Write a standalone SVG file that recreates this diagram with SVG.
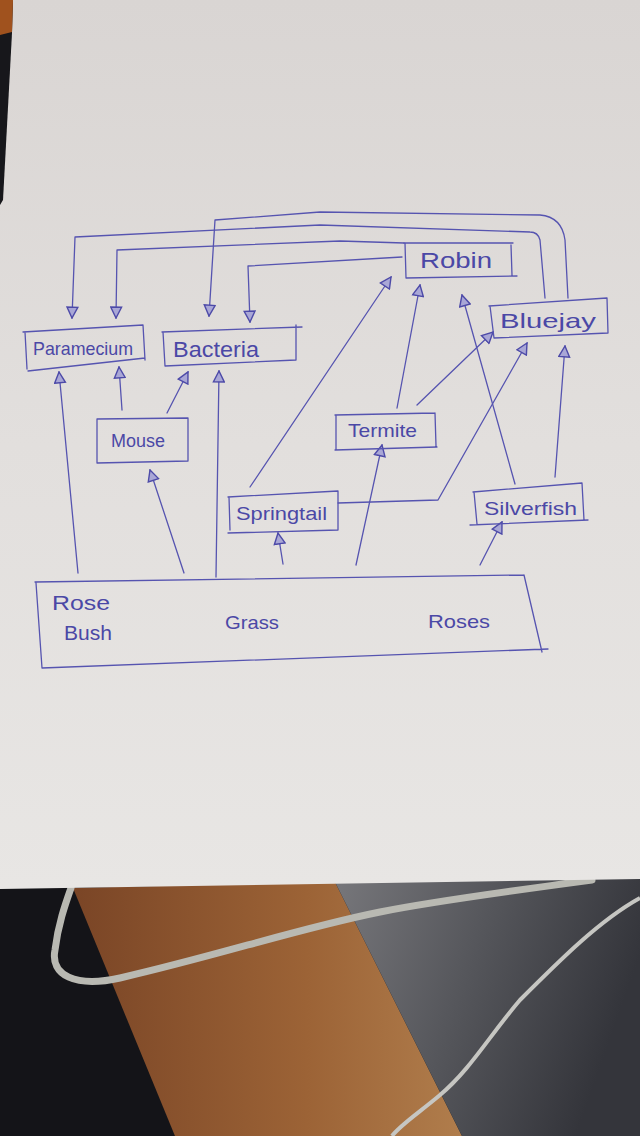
<svg xmlns="http://www.w3.org/2000/svg" width="640" height="1136" viewBox="0 0 640 1136">
<defs>
<linearGradient id="paper" x1="0" y1="0" x2="0" y2="1">
<stop offset="0" stop-color="#d9d5d3"/>
<stop offset="0.5" stop-color="#e2dfdd"/>
<stop offset="1" stop-color="#e8e6e4"/>
</linearGradient>
<linearGradient id="wood" x1="0" y1="0" x2="1" y2="0">
<stop offset="0" stop-color="#7a4526"/>
<stop offset="0.6" stop-color="#9c6336"/>
<stop offset="1" stop-color="#b07d4c"/>
</linearGradient>
<linearGradient id="grey" x1="0" y1="0" x2="1" y2="0.3">
<stop offset="0" stop-color="#77777b"/>
<stop offset="0.5" stop-color="#55565b"/>
<stop offset="1" stop-color="#34353b"/>
</linearGradient>
<marker id="tri" viewBox="0 0 12 12" refX="11" refY="6" markerWidth="13" markerHeight="13" markerUnits="userSpaceOnUse" orient="auto">
<path d="M1,1 L11,6 L1,11 Z" fill="#a9a7d6" stroke="#4d4aa8" stroke-width="1.3"/>
</marker>
<style>
.ink{fill:none;stroke:#5654b0;stroke-width:1.3;stroke-linejoin:round;stroke-linecap:round}
.arr{fill:none;stroke:#5654b0;stroke-width:1.3;stroke-linejoin:round;stroke-linecap:round;marker-end:url(#tri)}
.lbl{font-family:"Liberation Sans",Arial,sans-serif;fill:#4b48a6}
</style>
</defs>

<g id="background">
<rect x="0" y="0" width="640" height="1136" fill="#141418"/>
<polygon points="73,888 335,882 462,1136 175,1136" fill="url(#wood)"/>
<polygon points="335,882 640,878 640,1136 462,1136" fill="url(#grey)"/>
<path d="M592,880 C520,890 440,900 380,912 C300,928 220,955 120,978 C75,988 50,975 55,950 C58,925 65,905 71,888" fill="none" stroke="#b9b9b2" stroke-width="7" stroke-linecap="round"/>
<path d="M640,898 C600,920 560,960 520,1000 C490,1035 470,1070 440,1095 C420,1112 400,1125 392,1136" fill="none" stroke="#c6c6c2" stroke-width="4"/>
<polygon points="0,0 640,0 640,879 0,889" fill="url(#paper)"/>
<polygon points="0,0 13,0 12,33 3,200 0,205" fill="#17171b"/>
<polygon points="0,0 13,0 12,32 0,35" fill="#a0521e"/>
</g>

<g id="connectors">
<path class="arr" d="M545,298 L540,240 Q538,232 530,232 L320,225 L75,237 L72,318"/>
<path class="arr" d="M568,298 L565,240 Q562,217 540,215 L320,212 L215,220 L209,316"/>
<path class="arr" d="M404,243 L340,241 L117,250 L116,318"/>
<path class="arr" d="M402,257 L248,266 L250,322"/>
<path class="arr" d="M78,573 L59,372"/>
<path class="arr" d="M122,410 L119,367"/>
<path class="arr" d="M167,413 L188,372"/>
<path class="arr" d="M216,577 L219,371"/>
<path class="arr" d="M184,573 L150,470"/>
<path class="arr" d="M283,564 L278,533"/>
<path class="arr" d="M356,565 L382,445"/>
<path class="arr" d="M480,565 L502,522"/>
<path class="arr" d="M250,487 L391,277"/>
<path class="arr" d="M397,408 L420,285"/>
<path class="arr" d="M417,405 L493,332"/>
<path class="arr" d="M515,484 L462,295"/>
<path class="arr" d="M338,503 L438,500 L527,343"/>
<path class="arr" d="M555,477 L565,346"/>
</g>

<g id="node-paramecium">
<path class="ink" d="M23,332 L143,325 M25,332 L27,369 M28,371 L145,358 M143,325 L145,360"/>
<text class="lbl" x="33" y="355" font-size="19" textLength="100" lengthAdjust="spacingAndGlyphs">Paramecium</text>
</g>
<g id="node-bacteria">
<path class="ink" d="M162,332 L302,327 M163,332 L165,366 M165,366 L296,360 M296,325 L296,360"/>
<text class="lbl" x="173" y="357" font-size="22" textLength="86" lengthAdjust="spacingAndGlyphs">Bacteria</text>
</g>
<g id="node-robin">
<path class="ink" d="M404,243 L513,243 M405,243 L406,278 M406,278 L517,276 M511,245 L512,275"/>
<text class="lbl" x="420" y="268" font-size="22" textLength="72" lengthAdjust="spacingAndGlyphs">Robin</text>
</g>
<g id="node-bluejay">
<path class="ink" d="M489,306 L607,298 M490,306 L494,338 M494,338 L608,333 M607,298 L608,333"/>
<text class="lbl" x="500" y="328" font-size="21" textLength="96" lengthAdjust="spacingAndGlyphs">Bluejay</text>
</g>
<g id="node-mouse">
<path class="ink" d="M97,419 L188,418 M97,419 L97,463 M97,463 L188,461 M188,418 L188,461"/>
<text class="lbl" x="111" y="447" font-size="18" textLength="54" lengthAdjust="spacingAndGlyphs">Mouse</text>
</g>
<g id="node-termite">
<path class="ink" d="M335,415 L435,413 M336,415 L336,450 M335,450 L437,447 M435,413 L436,446"/>
<text class="lbl" x="348" y="437" font-size="19" textLength="69" lengthAdjust="spacingAndGlyphs">Termite</text>
</g>
<g id="node-springtail">
<path class="ink" d="M228,497 L338,491 M229,497 L230,530 M228,533 L338,530 M338,491 L338,530"/>
<text class="lbl" x="236" y="520" font-size="18" textLength="91" lengthAdjust="spacingAndGlyphs">Springtail</text>
</g>
<g id="node-silverfish">
<path class="ink" d="M473,492 L582,483 M474,492 L477,524 M470,525 L588,520 M582,483 L584,520"/>
<text class="lbl" x="484" y="515" font-size="19" textLength="93" lengthAdjust="spacingAndGlyphs">Silverfish</text>
</g>
<g id="node-plants">
<path class="ink" d="M35,582 L524,575 M36,583 L42,668 M42,668 L548,649 M524,575 L542,652"/>
<text class="lbl" x="52" y="610" font-size="21" textLength="58" lengthAdjust="spacingAndGlyphs">Rose</text>
<text class="lbl" x="64" y="640" font-size="20" textLength="48" lengthAdjust="spacingAndGlyphs">Bush</text>
<text class="lbl" x="225" y="629" font-size="19" textLength="54" lengthAdjust="spacingAndGlyphs">Grass</text>
<text class="lbl" x="428" y="628" font-size="19" textLength="62" lengthAdjust="spacingAndGlyphs">Roses</text>
</g>
</svg>
